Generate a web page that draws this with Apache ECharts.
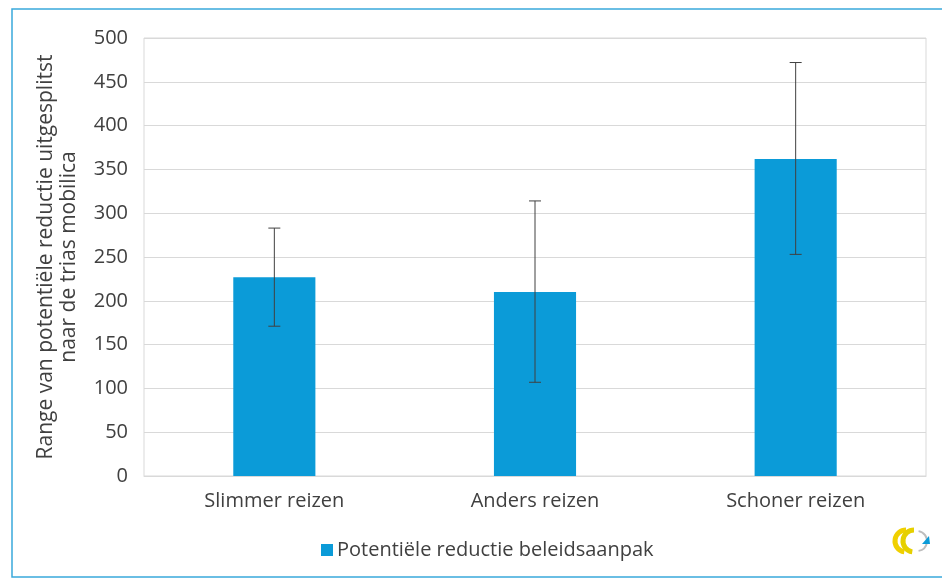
<!DOCTYPE html>
<html><head><meta charset="utf-8">
<script src="https://cdn.jsdelivr.net/npm/echarts@6/dist/echarts.min.js"></script>
<style>html,body{margin:0;padding:0;background:#fff}#c{width:942px;height:581px}</style>
</head><body><div id="c"></div>
<script>
const categories = ['Slimmer reizen', 'Anders reizen', 'Schoner reizen'];
const values = [227, 210, 362];
const errLow = [171, 107, 253];
const errHigh = [283, 314, 472];
const yTicks = {min: 0, max: 500, interval: 50};
const seriesName = 'Potentiële reductie beleidsaanpak';
const yTitle = 'Range van potentiële reductie uitgesplitst\nnaar de trias mobilica';

const FONT = 'Open Sans';
const chart = echarts.init(document.getElementById('c'), null, {renderer: 'canvas'});
chart.setOption({
  animation: false,
  backgroundColor: '#fff',
  textStyle: {fontFamily: FONT},
  grid: {left: 144, top: 38, right: 16, bottom: 105, show: true, borderColor: '#d9d9d9', borderWidth: 1},
  legend: {
    left: 316, top: 535, itemWidth: 12, itemHeight: 12, icon: 'rect', itemGap: 4,
    textStyle: {fontFamily: FONT, fontSize: 20, color: '#404040', padding: [0, 0, 0, -1]},
    data: [seriesName]
  },
  xAxis: {
    type: 'category', data: categories,
    axisLine: {lineStyle: {color: '#d9d9d9'}},
    axisTick: {show: false},
    axisLabel: {fontFamily: FONT, fontSize: 20, color: '#404040', margin: 15}
  },
  yAxis: {
    type: 'value', min: yTicks.min, max: yTicks.max, interval: yTicks.interval,
    name: yTitle, nameLocation: 'middle', nameGap: 63, nameRotate: 90,
    nameTextStyle: {fontFamily: FONT, fontSize: 21, color: '#404040', lineHeight: 23},
    axisLine: {show: false}, axisTick: {show: false},
    splitLine: {lineStyle: {color: '#d9d9d9'}},
    axisLabel: {fontFamily: FONT, fontSize: 20, color: '#404040', margin: 16}
  },
  series: [
    {
      name: seriesName, type: 'bar', data: values, barWidth: '31.5%',
      itemStyle: {color: '#0b9bd8'}
    },
    {
      name: 'err', type: 'custom',
      data: categories.map((c, i) => [i, errLow[i], errHigh[i]]),
      renderItem: function (params, api) {
        const x = api.value(0);
        const lo = api.coord([x, api.value(1)]);
        const hi = api.coord([x, api.value(2)]);
        const hw = 6;
        const st = {stroke: '#404040', lineWidth: 1};
        return {type: 'group', children: [
          {type: 'line', shape: {x1: lo[0], y1: lo[1], x2: hi[0], y2: hi[1]}, style: st},
          {type: 'line', shape: {x1: lo[0]-hw, y1: lo[1], x2: lo[0]+hw, y2: lo[1]}, style: st},
          {type: 'line', shape: {x1: hi[0]-hw, y1: hi[1], x2: hi[0]+hw, y2: hi[1]}, style: st}
        ]};
      },
      z: 10
    }
  ],
  graphic: [
    {type: 'rect', shape: {x: 12, y: 9, width: 960, height: 568}, style: {fill: 'none', stroke: '#3aa9dc', lineWidth: 1.5}, silent: true},
    {type: 'arc', shape: {cx: 906, cy: 541, r: 11, startAngle: Math.PI*0.55, endAngle: Math.PI*1.5}, style: {stroke: '#f0d000', lineWidth: 5, fill: 'none'}},
    {type: 'arc', shape: {cx: 914, cy: 541, r: 11, startAngle: Math.PI*0.55, endAngle: Math.PI*1.5}, style: {stroke: '#e6d000', lineWidth: 5, fill: 'none'}},
    {type: 'arc', shape: {cx: 917, cy: 541, r: 10, startAngle: Math.PI*1.55, endAngle: Math.PI*0.45}, style: {stroke: '#bdbdbd', lineWidth: 2, fill: 'none'}},
    {type: 'polygon', shape: {points: [[922, 544], [929, 536], [930, 544]]}, style: {fill: '#0b9bd8'}}
  ]
});
</script></body></html>
